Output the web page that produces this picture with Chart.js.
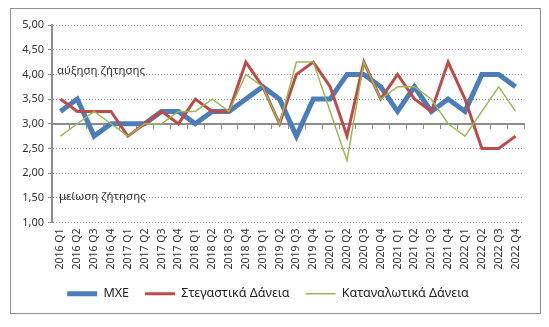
<!DOCTYPE html>
<html>
<head>
<meta charset="utf-8">
<script src="https://cdn.jsdelivr.net/npm/chart.js@4"></script>
<style>
  html, body { margin: 0; padding: 0; background: #fff; }
  #wrap { width: 549px; height: 327px; position: relative; }
</style>
</head>
<body>
<div id="wrap"><canvas id="demandChart" width="549" height="327"></canvas></div>
<script>
// Τρίμηνα 2016 Q1 – 2022 Q4
const quarters = [
    '2016 Q1', '2016 Q2', '2016 Q3', '2016 Q4',
    '2017 Q1', '2017 Q2', '2017 Q3', '2017 Q4',
    '2018 Q1', '2018 Q2', '2018 Q3', '2018 Q4',
    '2019 Q1', '2019 Q2', '2019 Q3', '2019 Q4',
    '2020 Q1', '2020 Q2', '2020 Q3', '2020 Q4',
    '2021 Q1', '2021 Q2', '2021 Q3', '2021 Q4',
    '2022 Q1', '2022 Q2', '2022 Q3', '2022 Q4'
];

const mxe = [3.25, 3.5, 2.75, 3.0, 3.0, 3.0, 3.25, 3.25, 3.0, 3.25, 3.25, 3.5, 3.75, 3.5,
    2.75, 3.5, 3.5, 4.0, 4.0, 3.75, 3.25, 3.75, 3.25, 3.5, 3.25, 4.0, 4.0, 3.75];

const stegastika = [3.5, 3.25, 3.25, 3.25, 2.75, 3.0, 3.25, 3.0, 3.5, 3.25, 3.25, 4.25, 3.75, 3.0,
    4.0, 4.25, 3.75, 2.75, 4.25, 3.5, 4.0, 3.5, 3.25, 4.25, 3.5, 2.5, 2.5, 2.75];

const katanalotika = [2.75, 3.0, 3.25, 3.0, 2.75, 3.0, 3.0, 3.25, 3.25, 3.5, 3.25, 4.0, 3.75, 3.0,
    4.25, 4.25, 3.25, 2.25, 4.25, 3.5, 3.75, 3.75, 3.5, 3.0, 2.75, 3.25, 3.75, 3.25];

const yMin = 1, yMax = 5, yStep = 0.5;
const neutralLevel = 3;

const notes = [
    { text: 'αύξηση ζήτησης', value: 4.0, dy: -4, dx: 5 },
    { text: 'μείωση ζήτησης', value: 1.5, dy: -1, dx: 7 }
];

const FONT = '"Noto Sans", "DejaVu Sans", sans-serif';
const AXIS_GREY = '#8c8c8c';

// πλαίσιο, οριζόντιος άξονας στο 3,00 και σημειώσεις
const decorPlugin = {
    id: 'decor',
    beforeDraw(chart) {
        const ctx = chart.ctx;
        ctx.save();
        ctx.strokeStyle = '#8f8f8f';
        ctx.lineWidth = 1;
        ctx.strokeRect(10.5, 8.5, 530, 305);
        ctx.restore();
    },
    beforeDatasetsDraw(chart) {
        const ctx = chart.ctx;
        const y = chart.scales.y;
        const area = chart.chartArea;
        const yPix = Math.round(y.getPixelForValue(neutralLevel));
        ctx.save();
        ctx.strokeStyle = AXIS_GREY;
        ctx.lineWidth = 2;
        ctx.beginPath();
        ctx.moveTo(area.left, yPix);
        ctx.lineTo(area.right + 1, yPix);
        ctx.stroke();
        ctx.lineWidth = 1;
        const step = (area.right - area.left) / quarters.length;
        ctx.beginPath();
        for (let k = 0; k <= quarters.length; k++) {
            const px = Math.round(area.left + k * step) + 0.5;
            ctx.moveTo(px, yPix);
            ctx.lineTo(px, yPix + 5);
        }
        ctx.stroke();

        ctx.fillStyle = '#333';
        ctx.font = '11.5px ' + FONT;
        ctx.textBaseline = 'middle';
        notes.forEach(n => {
            ctx.fillText(n.text, area.left + n.dx, y.getPixelForValue(n.value) + n.dy);
        });
        ctx.restore();
    }
};

const datasetBase = { fill: false, tension: 0, pointRadius: 0, pointHoverRadius: 0, borderJoinStyle: 'miter' };

new Chart(document.getElementById('demandChart').getContext('2d'), {
    type: 'line',
    data: {
        labels: quarters,
        datasets: [
            Object.assign({ label: 'MXE', data: mxe, borderColor: '#4a7ebb', backgroundColor: '#4a7ebb', borderWidth: 5, order: 3 }, datasetBase),
            Object.assign({ label: 'Στεγαστικά Δάνεια', data: stegastika, borderColor: '#be4b48', backgroundColor: '#be4b48', borderWidth: 3, order: 2 }, datasetBase),
            Object.assign({ label: 'Καταναλωτικά Δάνεια', data: katanalotika, borderColor: '#98b954', backgroundColor: '#98b954', borderWidth: 1.5, order: 1 }, datasetBase)
        ]
    },
    options: {
        responsive: false,
        animation: false,
        devicePixelRatio: 1,
        layout: { padding: { left: 12, right: 25, top: 25, bottom: 17 } },
        plugins: {
            tooltip: { enabled: false },
            legend: {
                position: 'bottom',
                labels: {
                    usePointStyle: true,
                    pointStyle: 'line',
                    pointStyleWidth: 30,
                    boxHeight: 12,
                    padding: 16,
                    color: '#222',
                    font: { family: FONT, size: 12.5 },
                    sort: (a, b) => a.datasetIndex - b.datasetIndex
                }
            }
        },
        scales: {
            x: {
                offset: true,
                grid: { display: false, drawTicks: false },
                border: { display: false },
                ticks: {
                    autoSkip: false,
                    minRotation: 90,
                    maxRotation: 90,
                    padding: 6,
                    color: '#333',
                    font: { family: FONT, size: 10.5 }
                },
                afterFit(scale) { scale.height = 49; }
            },
            y: {
                min: yMin,
                max: yMax,
                grid: {
                    color: AXIS_GREY,
                    lineWidth: 1,
                    tickLength: 4,
                    tickColor: AXIS_GREY
                },
                border: { display: true, color: AXIS_GREY, width: 2, dash: [1, 2] },
                ticks: {
                    stepSize: yStep,
                    padding: 4,
                    color: '#333',
                    font: { family: FONT, size: 11 },
                    callback: v => v.toFixed(2).replace('.', ',')
                },
                afterFit(scale) { scale.width = 40; }
            }
        }
    },
    plugins: [decorPlugin]
});
</script>
</body>
</html>
